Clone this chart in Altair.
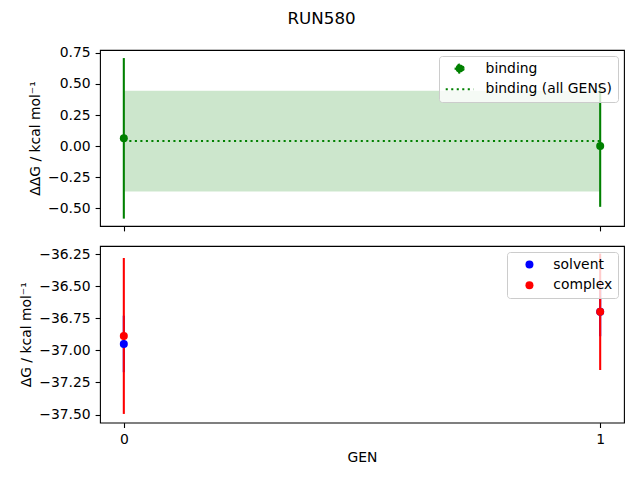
import sys
import altair as alt
import pandas as pd

# ---- data ----
gens = [0, 1]
binding = [0.062, 0.0]
binding_err = [0.647, 0.49]
binding_all_mean = 0.04
binding_all_err = 0.406
solvent = [-36.95, -36.70]
solvent_err = [0.22, 0.19]
complex_ = [-36.888, -36.70]
complex_err = [0.607, 0.453]

top_ticks = [-0.5, -0.25, 0.0, 0.25, 0.5, 0.75]
bottom_ticks = [-37.5, -37.25, -37.0, -36.75, -36.5, -36.25]
top_series = ["binding", "binding (all GENS)"]
bottom_series = ["solvent", "complex"]

FONT = "DejaVu Sans"
GREEN = "#008000"
LW = 2.08
DOT = [2.08, 3.43]

bind_df = pd.DataFrame({
    "GEN": gens,
    "val": binding,
    "lo": [v - e for v, e in zip(binding, binding_err)],
    "hi": [v + e for v, e in zip(binding, binding_err)],
    "series": [top_series[0]] * len(gens),
})
band_df = pd.DataFrame({
    "GEN": gens,
    "mean": [binding_all_mean] * len(gens),
    "lo": [binding_all_mean - binding_all_err] * len(gens),
    "hi": [binding_all_mean + binding_all_err] * len(gens),
})
rows = []
for name, vals, errs in [("solvent", solvent, solvent_err), ("complex", complex_, complex_err)]:
    for g, v, e in zip(gens, vals, errs):
        rows.append({"GEN": g, "val": v, "lo": v - e, "hi": v + e, "series": name})
leg_df = pd.DataFrame(rows)

xscale = alt.Scale(domain=[-0.05, 1.05], nice=False, zero=False)
xaxis_top = alt.Axis(values=gens, labels=False, title=None)
xaxis_bot = alt.Axis(values=gens, format="d", title="GEN", titlePadding=4)

yscale_top = alt.Scale(domain=[-0.6445, 0.774], nice=False, zero=False)
yaxis_top = alt.Axis(values=top_ticks, format=".2f", title="ΔΔG / kcal mol⁻¹",
                     labelOverlap=False)
yscale_bot = alt.Scale(domain=[-37.5625, -36.1875], nice=False, zero=False)
yaxis_bot = alt.Axis(values=bottom_ticks, format=".2f", title="ΔG / kcal mol⁻¹",
                     labelOverlap=False)


def xt(field="GEN"):
    return alt.X(f"{field}:Q", scale=xscale, axis=xaxis_top)


def yt(field):
    return alt.Y(f"{field}:Q", scale=yscale_top, axis=yaxis_top)


def xb(field="GEN"):
    return alt.X(f"{field}:Q", scale=xscale, axis=xaxis_bot)


def yb(field):
    return alt.Y(f"{field}:Q", scale=yscale_bot, axis=yaxis_bot)


legend_base = dict(
    title=None, orient="top-right", offset=6, padding=5.6,
    fillColor="rgba(255,255,255,0.8)", strokeColor="#cccccc", cornerRadius=3,
    labelFont=FONT, labelFontSize=13.9, labelColor="black",
    clipHeight=14, rowPadding=6.7,
)
top_legend = alt.Legend(**legend_base, symbolStrokeColor=GREEN, symbolStrokeWidth=LW,
                        symbolDash=DOT, symbolOffset=0, labelOffset=11)
bottom_legend = alt.Legend(**legend_base, symbolSize=64, symbolStrokeWidth=0,
                           symbolOffset=9.9, labelOffset=16.9)

band = alt.Chart(band_df).mark_area(color=GREEN, opacity=0.2).encode(
    x=xt(), y=yt("lo"), y2="hi:Q")
mean_line = alt.Chart(band_df).mark_line(
    color=GREEN, strokeDash=DOT, strokeWidth=LW).encode(x=xt(), y=yt("mean"))
bind_err = alt.Chart(bind_df).mark_rule(color=GREEN, strokeWidth=LW).encode(
    x=xt(), y=yt("lo"), y2="hi:Q")
bind_pts = alt.Chart(bind_df).mark_point(filled=True, opacity=1).encode(
    x=xt(), y=yt("val"),
    color=alt.Color("series:N", scale=alt.Scale(domain=top_series, range=[GREEN, GREEN]),
                    legend=top_legend),
    shape=alt.Shape("series:N", scale=alt.Scale(domain=top_series, range=["circle", "stroke"]),
                    legend=top_legend),
    size=alt.Size("series:N", scale=alt.Scale(domain=top_series, range=[64, 772]),
                  legend=top_legend),
)
top = alt.layer(band, mean_line, bind_err, bind_pts).properties(width=524, height=176)

col_scale = alt.Scale(domain=bottom_series, range=["#0000ff", "#ff0000"])
b_err = alt.Chart(leg_df).mark_rule(strokeWidth=LW).encode(
    x=xb(), y=yb("lo"), y2="hi:Q",
    color=alt.Color("series:N", scale=col_scale, legend=bottom_legend))
b_pts = alt.Chart(leg_df).mark_point(filled=True, size=64, opacity=1, shape="circle").encode(
    x=xb(), y=yb("val"),
    color=alt.Color("series:N", scale=col_scale, legend=bottom_legend),
)
bottom = alt.layer(b_err, b_pts).properties(width=524, height=176.6)

chart = alt.vconcat(top, bottom, spacing=13).resolve_scale(
    color="independent", shape="independent", size="independent").properties(
    title=alt.TitleParams("RUN580", font=FONT, fontSize=16.7, fontWeight="normal",
                          color="black", anchor="middle", offset=17.7),
    padding={"left": 10, "top": 3, "right": 5, "bottom": 5},
    background="white",
).configure_view(stroke="black", strokeWidth=1.1).configure_axis(
    labelFont=FONT, labelFontSize=13.9, labelColor="black",
    titleFont=FONT, titleFontSize=13.9, titleFontWeight="normal", titleColor="black",
    tickColor="black", tickSize=4.9, tickWidth=1.1, labelPadding=4.9,
    domain=False, grid=False, titlePadding=5.6,
)

try:
    chart.to_dict()
except Exception as e:
    sys.stderr.write("ERRHEAD: " + str(e)[:1500] + "\n")
    raise SystemExit(1)

chart.save("out.html", embed_options={"renderer": "svg", "actions": False})
